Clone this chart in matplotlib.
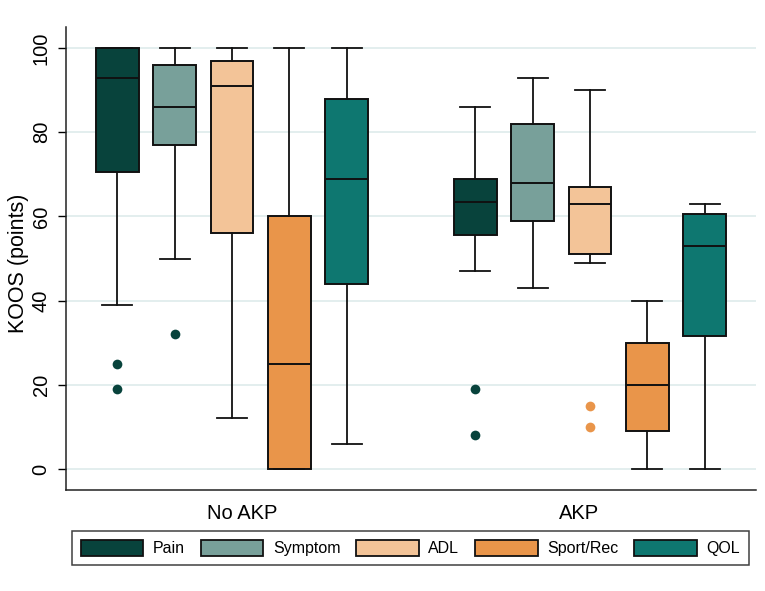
import matplotlib
matplotlib.use("Agg")
import matplotlib.pyplot as plt
from matplotlib.patches import Patch

plt.rcParams['font.family'] = ['Liberation Sans', 'DejaVu Sans']

groups = ["No AKP", "AKP"]
measures = ["Pain", "Symptom", "ADL", "Sport/Rec", "QOL"]
colors = ["#08433C", "#78A09A", "#F3C498", "#E9954A", "#0E7770"]

# per group, per measure: whislo, q1, median, q3, whishi
no_akp_stats = [
    (39, 70.5, 93, 100, 100),
    (50, 77, 86, 96, 100),
    (12, 56, 91, 97, 100),
    (0, 0, 25, 60, 100),
    (6, 44, 69, 88, 100),
]
akp_stats = [
    (47, 55.6, 63.5, 69, 86),
    (43, 59, 68, 82, 93),
    (49, 51, 63, 67, 90),
    (0, 9, 20, 30, 40),
    (0, 31.5, 53, 60.5, 63),
]
no_akp_outliers = [[25, 19], [32], [], [], []]
akp_outliers = [[19, 8], [], [15, 10], [], []]
no_akp_outlier_colors = ["#08433C", "#08433C", "#08433C", "#08433C", "#08433C"]
akp_outlier_colors = ["#08433C", "#08433C", "#E9954A", "#E9954A", "#E9954A"]

yticks = [0, 20, 40, 60, 80, 100]

fig = plt.figure(figsize=(7.65, 5.91), dpi=100)
ax = fig.add_axes([66/765, 1-490/591, 690/765, (490-27)/591])

group_centers = [166, 524]
spacing = 57.3
box_w = 42.5

stats = []
positions = []
box_colors = []
flier_colors = []
for gi, (gstats, gout, gcol) in enumerate([(no_akp_stats, no_akp_outliers, no_akp_outlier_colors),
                                           (akp_stats, akp_outliers, akp_outlier_colors)]):
    for mi, (s, o) in enumerate(zip(gstats, gout)):
        lo, q1, med, q3, hi = s
        stats.append(dict(whislo=lo, q1=q1, med=med, q3=q3, whishi=hi, fliers=o))
        positions.append(group_centers[gi] + (mi - 2) * spacing)
        box_colors.append(colors[mi])
        flier_colors.append(gcol[mi])

for y in yticks:
    ax.axhline(y, color="#E3EEEE", lw=1.4, zorder=0)

res = ax.bxp(stats, positions=positions, widths=box_w, capwidths=30,
             patch_artist=True, showfliers=True,
             boxprops=dict(edgecolor="#111111", linewidth=1.4),
             medianprops=dict(color="#111111", linewidth=1.4),
             whiskerprops=dict(color="#111111", linewidth=1.3),
             capprops=dict(color="#111111", linewidth=1.3),
             flierprops=dict(marker="o", markersize=7, markeredgewidth=0, linestyle="none"))
for patch, c in zip(res["boxes"], box_colors):
    patch.set_facecolor(c)
for fl, c in zip(res["fliers"], flier_colors):
    fl.set_markerfacecolor(c)
    fl.set_markeredgecolor(c)

ax.set_xlim(0, 690)
ax.set_ylim(-5, 105)
ax.set_yticks(yticks)
ax.set_yticklabels([str(v) for v in yticks], rotation=90, va="center", fontsize=14.5)
ax.set_xticks([175.7, 513])
ax.set_xticklabels(groups, fontsize=14.5)
ax.tick_params(axis="x", length=0, pad=10)
ax.tick_params(axis="y", length=6, width=1, pad=5, direction="out")
ax.set_ylabel("KOOS (points)", fontsize=15.5)
ax.yaxis.set_label_coords(-0.054, 0.49)
for side in ["top", "right"]:
    ax.spines[side].set_visible(False)
for side in ["left", "bottom"]:
    ax.spines[side].set_linewidth(1.1)
    ax.spines[side].set_color("#222222")

handles = [Patch(facecolor=c, edgecolor="#111111", linewidth=1.3) for c in colors]
leg = fig.legend(handles, measures, loc="center", ncol=5,
                 bbox_to_anchor=((73+748)/2/765, 1-548/591),
                 fontsize=11.5, handlelength=3.9, handleheight=1.25,
                 handletextpad=0.6, columnspacing=1.0, borderpad=0.55,
                 fancybox=False, frameon=True, edgecolor="#111111")
leg.get_frame().set_linewidth(1.1)

fig.savefig("out.png", dpi=100)
